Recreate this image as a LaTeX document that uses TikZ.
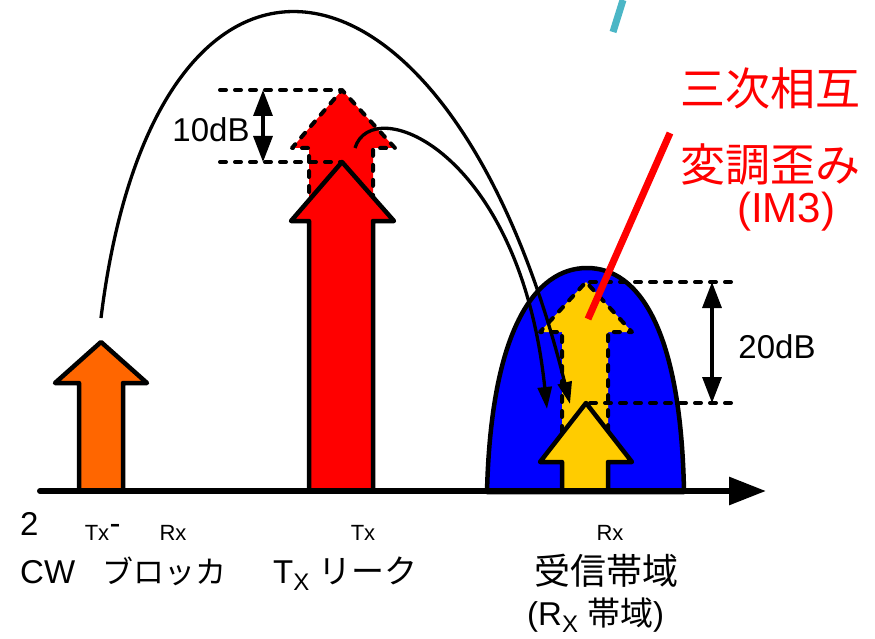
\documentclass[tikz,border=0pt]{standalone}
\usepackage{fontspec}
\setmainfont{Liberation Sans}
\newfontfamily\jp{Noto Sans CJK JP}
\usetikzlibrary{arrows.meta}

\definecolor{cworange}{HTML}{FF6600}
\definecolor{imyellow}{HTML}{FFCC00}
\definecolor{rxblue}{HTML}{0000FF}
\definecolor{teal}{HTML}{4BB6C6}

\tikzset{
  sig/.style={line width=4.5pt, line join=round},
  ghost/.style={line width=4pt, dash pattern=on 6pt off 9pt, line cap=round, line join=round},
  gap/.style={<->, >={Triangle[length=26pt,width=19pt]}, line width=3.3pt},
  hop/.style={-{Triangle[length=22pt,width=14pt]}, line width=3.3pt},
  big/.style={font=\fontsize{33}{36}\selectfont, inner sep=0pt},
  sml/.style={font=\fontsize{22}{24}\selectfont, inner sep=0pt},
  note/.style={font=\fontsize{45}{48}\selectfont, text=red, inner sep=0pt},
}

\begin{document}
\begin{tikzpicture}[x=1pt, y=-1pt]
  \useasboundingbox (0,0) rectangle (875,639);
  % key points
  \coordinate (cw) at (101,318);
  \coordinate (leak) at (355,148);
  \coordinate (cwend) at (570,404);
  \coordinate (leakend) at (547,409);
  % Rx band
  \filldraw[sig, fill=rxblue] (487,492) .. controls (491,330) and (535,268) .. (587,268)
    .. controls (639,268) and (681,330) .. (684,492) -- cycle;
  % Tx leak before / after (10dB)
  \filldraw[ghost, fill=red] (309,222) -- (309,148) -- (292,148) -- (342,90) -- (395,148) -- (373,148) -- (373,222);
  \filldraw[sig, fill=red] (309,492) -- (309,221) -- (291,221) -- (342,162) -- (394,221) -- (373,221) -- (373,492);
  % IM3 before / after (20dB)
  \filldraw[ghost, fill=imyellow] (562,462) -- (562,332) -- (540,332) -- (586,282) -- (632,332) -- (608,332) -- (608,462);
  \filldraw[sig, fill=imyellow] (562,492) -- (562,462) -- (540,462) -- (586,403) -- (632,462) -- (608,462) -- (608,492);
  % CW blocker
  \filldraw[sig, fill=cworange] (79,492) -- (79,383) -- (55,383) -- (101,342) -- (147,383) -- (123,383) -- (123,492);
  % level lines
  \draw[ghost] (220,90) -- (340,90);
  \draw[ghost] (220,162) -- (340,162);
  \draw[gap] (263,90) -- (263,162);
  \draw[ghost] (590,282) -- (737,282);
  \draw[ghost] (590,403) -- (737,403);
  \draw[gap] (712,282) -- (712,403);
  % mixing paths
  \draw[hop] (cw) .. controls (155,-120) and (450,-80) .. (cwend);
  \draw[hop] (leak) .. controls (372,92) and (520,150) .. (leakend);
  % pointers
  \draw[red, line width=7pt] (670,133) -- (588,319);
  \draw[teal, line width=7pt] (623,0) -- (613,32);
  % axis
  \draw[line width=6pt, line cap=round, -{Triangle[length=37pt,width=27pt]}] (40,491) -- (766,491);
  % labels
  \node[big] (l10) at (211,130) {10dB};
  \node[big] (l20) at (777,347) {20dB};
  \node[note] (n1) at (770,88) {\jp 三次相互};
  \node[note] (n2) at (770,165) {\jp 変調歪み};
  \node[note, font=\fontsize{42}{46}\selectfont] (n3) at (786,212) {(IM3)};
  \node[big, anchor=base west] (two) at (20,535) {2};
  \node[sml, anchor=base] (s1) at (97,540) {Tx};
  \node[big, anchor=base] (s2) at (115,534) {-};
  \node[sml, anchor=base] (s3) at (173,540) {Rx};
  \node[sml, anchor=base] (s4) at (363,540) {Tx};
  \node[sml, anchor=base] (s5) at (610,540) {Rx};
  \node[big, anchor=base west] (cwl) at (20,583) {CW};
  \node[big, anchor=base west] (blk) at (102,583) {\fontsize{31}{36}\selectfont\jp ブロッカ};
  \node[big, anchor=base west] (txl) at (273,583) {T\raisebox{-0.22em}{\fontsize{24}{24}\selectfont X} {\jp リーク}};
  \node[big, anchor=base] (rx1) at (606,584) {\fontsize{36}{40}\selectfont\jp 受信帯域};
  \node[big, anchor=base west] (rx2) at (527,625) {(R\raisebox{-0.22em}{\fontsize{24}{24}\selectfont X} {\jp 帯域})};
\end{tikzpicture}
\end{document}
